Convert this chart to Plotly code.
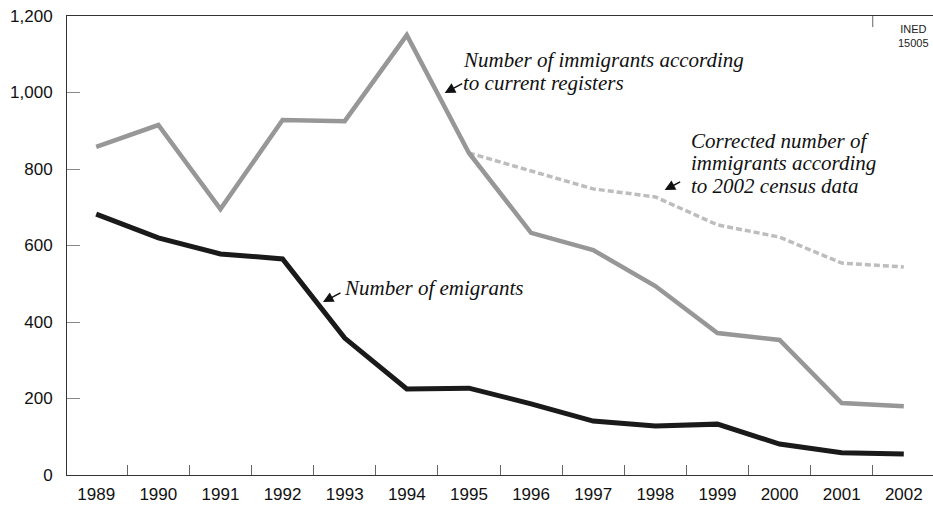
import plotly.graph_objects as go

years = list(range(1989, 2003))
immigrants_registers = [858, 915, 695, 928, 925, 1150, 842, 633, 588, 494, 371, 353, 188, 180]
census_years = list(range(1995, 2003))
immigrants_census = [842, 795, 748, 727, 654, 622, 554, 544]
emigrants = [682, 620, 578, 565, 358, 225, 227, 186, 141, 128, 133, 81, 58, 55]
y_ticks = [0, 200, 400, 600, 800, 1000, 1200]

fig = go.Figure()
fig.add_trace(go.Scatter(x=census_years, y=immigrants_census, mode="lines",
                         line=dict(color="#bdbdbd", width=3.5, dash="6px,3px"),
                         showlegend=False, hoverinfo="skip"))
fig.add_trace(go.Scatter(x=years, y=immigrants_registers, mode="lines",
                         line=dict(color="#979797", width=4.5),
                         showlegend=False))
fig.add_trace(go.Scatter(x=years, y=emigrants, mode="lines",
                         line=dict(color="#1a1a1a", width=5),
                         showlegend=False))

serif = dict(family="Liberation Serif", size=21, color="#111")

def text_lines(x, y, lines, step=59):
    # step: vertical gap between lines in data units (~22.5 px)
    for i, t in enumerate(lines):
        fig.add_annotation(x=x, y=y - i * step, xref="x", yref="y", text="<i>" + t + "</i>",
                           showarrow=False, xanchor="left", yanchor="middle", align="left",
                           font=serif)

def arrow_ann(x, y, ax, ay):
    fig.add_annotation(x=x, y=y, xref="x", yref="y", text="", showarrow=True,
                       ax=ax, ay=ay, arrowhead=2, arrowsize=1.4, arrowwidth=1.5,
                       arrowcolor="#111", standoff=0)

text_lines(1994.88, 1084, ["Number of immigrants according", "to current registers"])
arrow_ann(1994.61, 999, 19, -10)
text_lines(1998.55, 874, ["Corrected number of", "immigrants according", "to 2002 census data"])
arrow_ann(1998.15, 745, 17, -9)
text_lines(1992.95, 488, ["Number of emigrants"])
arrow_ann(1992.65, 452, 19, -10)

fig.add_annotation(x=1, y=1, xref="paper", yref="paper", xanchor="right", yanchor="top",
                   text="INED<br>15005", showarrow=False, align="center",
                   font=dict(family="Liberation Sans Narrow, Liberation Sans", size=11, color="#222"),
                   xshift=-2, yshift=-5)

fig.add_shape(type="line", xref="x", yref="y", x0=2001.5, x1=2001.5, y0=1200, y1=1171,
              line=dict(color="#666", width=1))

fig.update_layout(
    width=933, height=506,
    margin=dict(l=67, r=0, t=16, b=31),
    paper_bgcolor="white", plot_bgcolor="white",
    font=dict(family="Liberation Sans", size=17, color="#111"),
)
fig.update_xaxes(range=[1988.53, 2002.47], tickvals=years, ticktext=[str(y) for y in years],
                 ticks="", showgrid=False, zeroline=False,
                 showline=True, linecolor="#333", linewidth=1, mirror=True,
                 minor=dict(ticks="inside", ticklen=10, tickcolor="#666", tick0=1989.5, dtick=1,
                            showgrid=False),
                 ticklabelstandoff=4)
fig.update_yaxes(range=[0, 1200], tickvals=y_ticks, tickformat=",",
                 ticks="inside", ticklen=13, tickcolor="#888",
                 showgrid=False, zeroline=False,
                 showline=True, linecolor="#333", linewidth=1,
                 ticklabelstandoff=10)

fig.write_html("out.html", config={"displayModeBar": False},
               post_script="document.body.style.margin='0';document.body.style.padding='0';")
